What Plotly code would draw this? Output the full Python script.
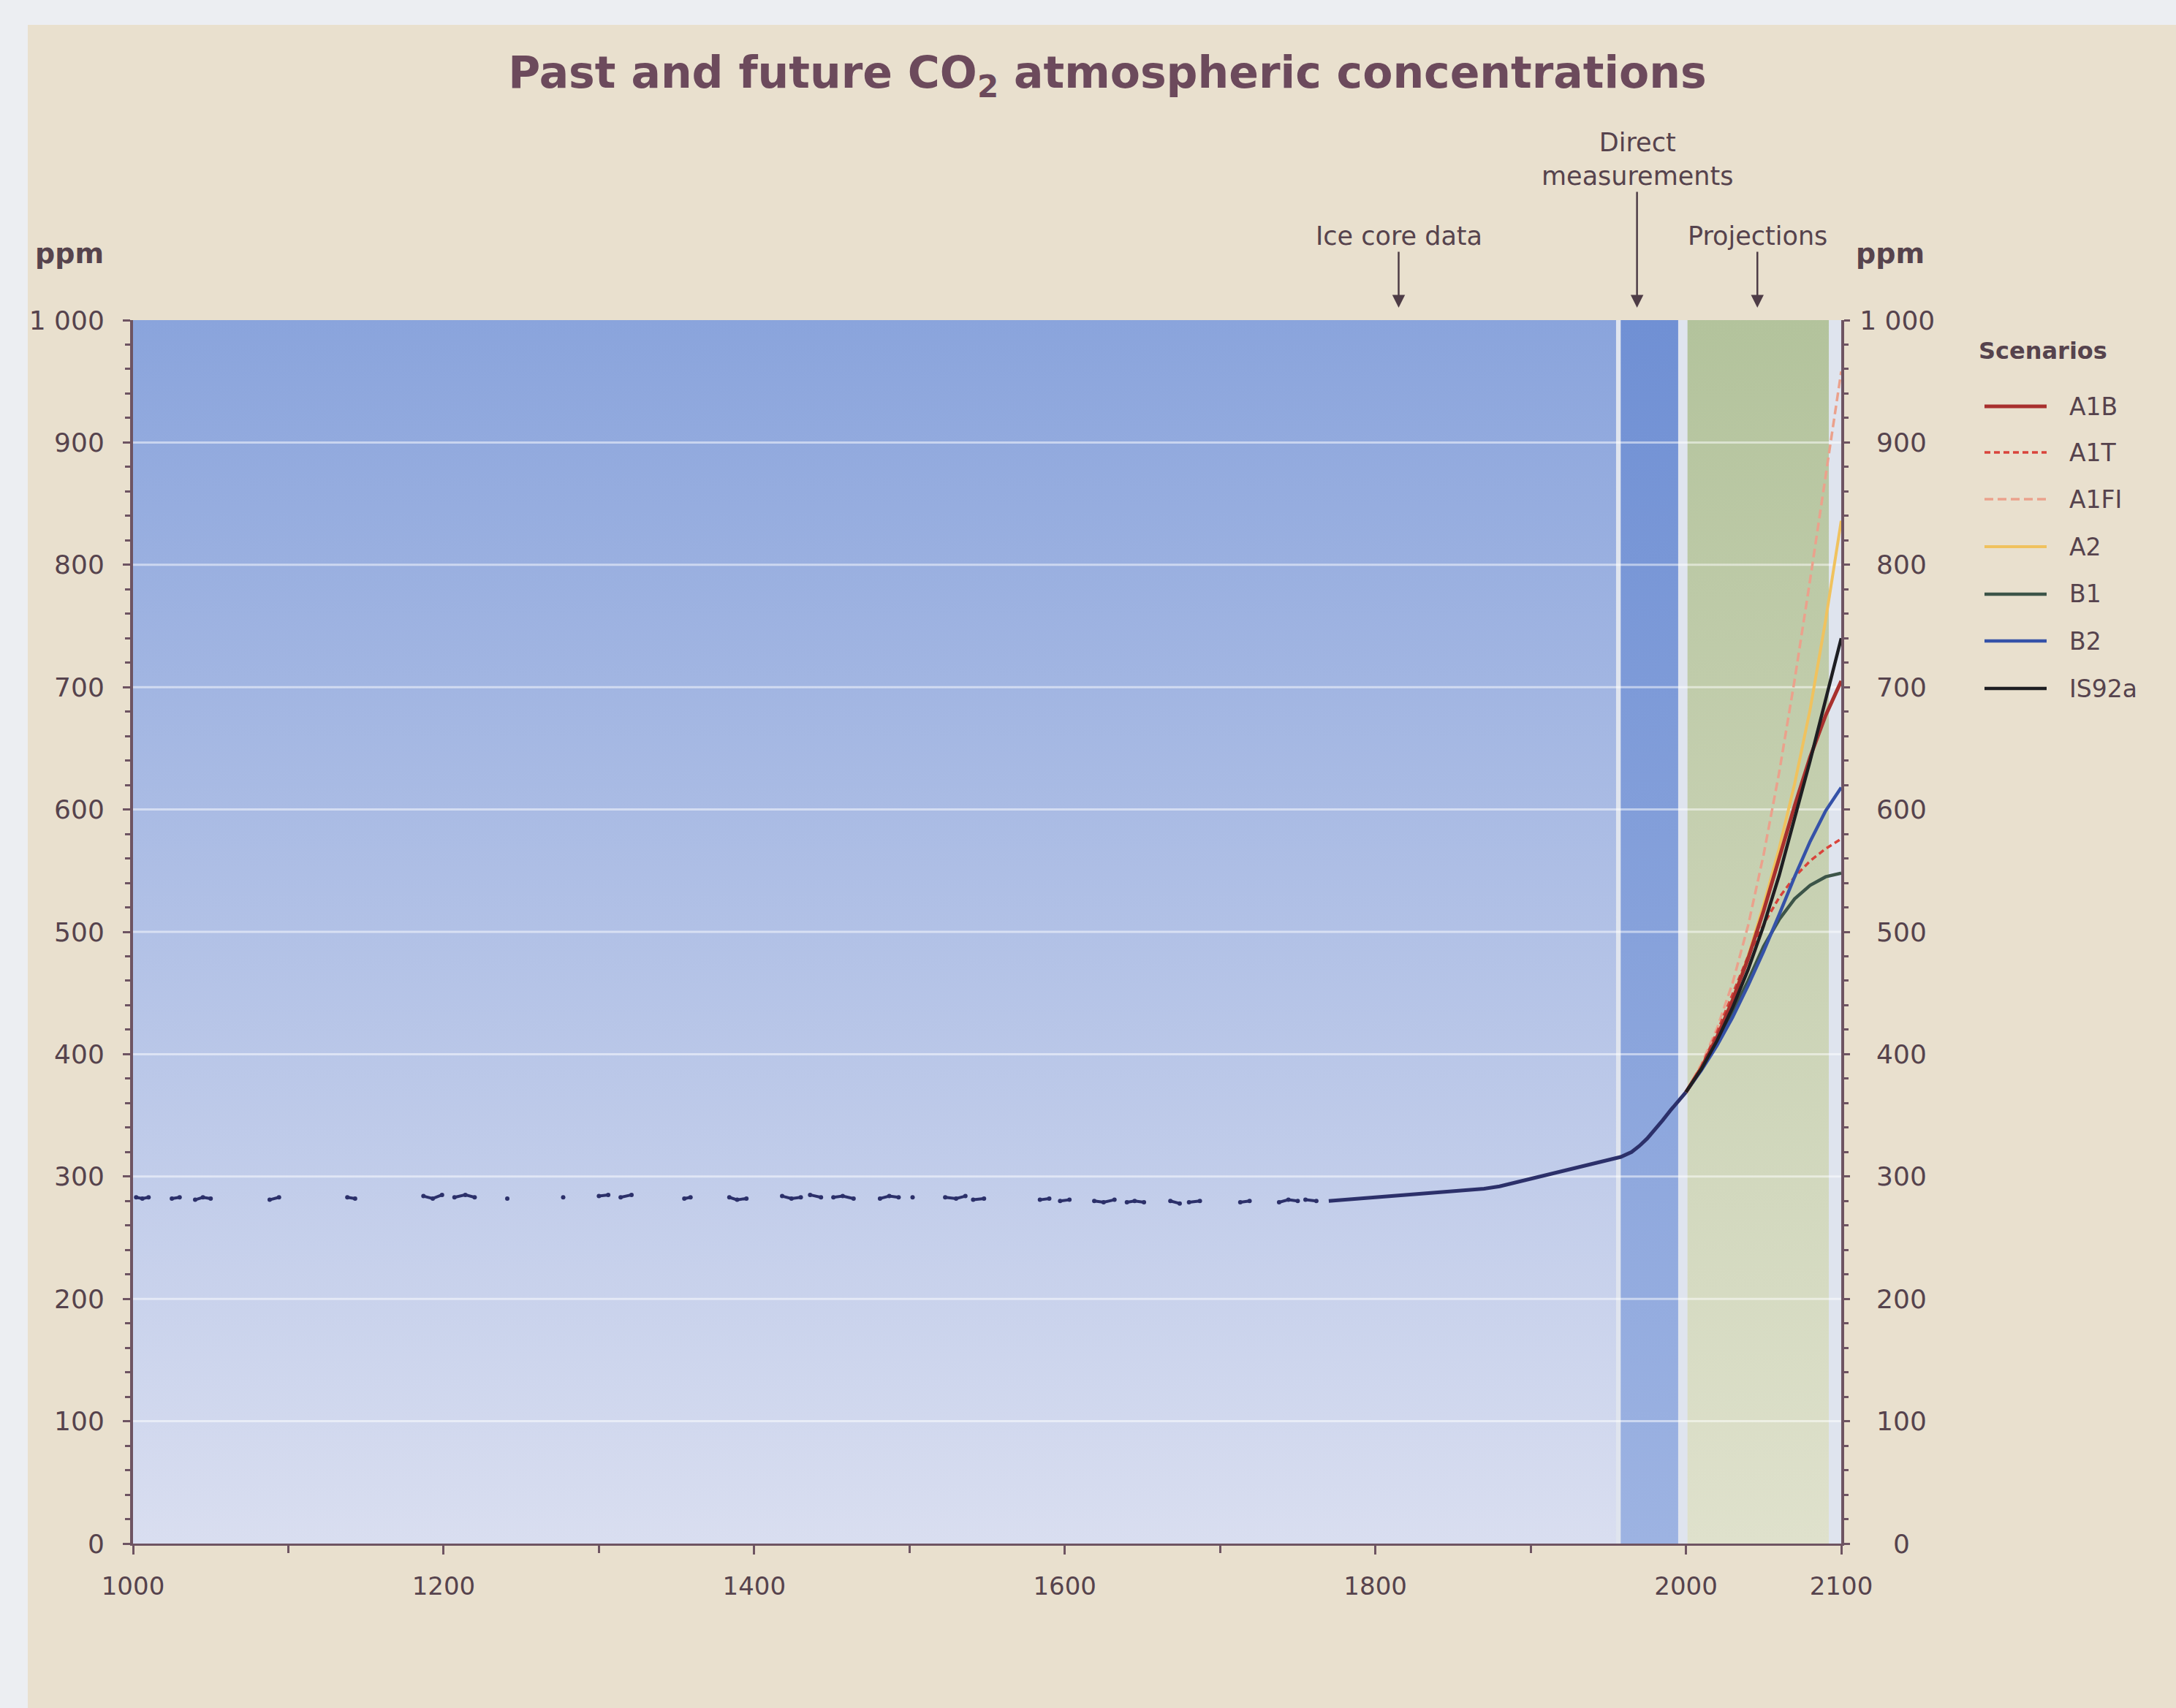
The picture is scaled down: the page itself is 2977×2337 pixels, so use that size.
import plotly.graph_objects as go

# ---------------------------------------------------------------- data
# Ice-core samples, 1000-1765 (None separates sample clusters)
ice_year = [1002, 1006, 1010, None, 1025, 1030, None, 1040, 1045, 1050, None,
            1088, 1094, None, 1138, 1143, None, 1187, 1193, 1199, None,
            1207, 1214, 1220, None, 1241, None, 1277, None, 1300, 1306, None,
            1314, 1321, None, 1355, 1359, None, 1384, 1389, 1395, None,
            1418, 1424, 1430, None, 1436, 1443, None, 1451, 1457, 1464, None,
            1481, 1487, 1493, None, 1502, None, 1523, 1530, 1536, None,
            1541, 1548, None, 1584, 1590, None, 1597, 1603, None,
            1619, 1625, 1632, None, 1640, 1645, 1651, None, 1668, 1674, None,
            1680, 1687, None, 1713, 1719, None, 1738, 1744, 1750, None,
            1755, 1762]
ice_ppm = [283, 282, 283, None, 282, 283, None, 281, 283, 282, None,
           281, 283, None, 283, 282, None, 284, 282, 285, None,
           283, 285, 283, None, 282, None, 283, None, 284, 285, None,
           283, 285, None, 282, 283, None, 283, 281, 282, None,
           284, 282, 283, None, 285, 283, None, 283, 284, 282, None,
           282, 284, 283, None, 283, None, 283, 282, 284, None,
           281, 282, None, 281, 282, None, 280, 281, None,
           280, 279, 281, None, 279, 280, 279, None, 280, 278, None,
           279, 280, None, 279, 280, None, 279, 281, 280, None,
           281, 280]

# Continuous record, ice core then direct measurements
hist_year = [1770, 1780, 1790, 1800, 1810, 1820, 1830, 1840, 1850, 1860, 1870,
             1880, 1890, 1900, 1910, 1920, 1930, 1940, 1950, 1958, 1965,
             1970, 1975, 1980, 1985, 1990, 1995, 2000]
hist_ppm = [280, 281, 282, 283, 284, 285, 286, 287, 288, 289, 290,
            292, 295, 298, 301, 304, 307, 310, 313, 316, 320,
            325, 331, 338, 346, 354, 361, 369]

# SRES / IS92a projections
proj_year = [2000, 2010, 2020, 2030, 2040, 2050, 2060, 2070, 2080, 2090, 2100]
scenarios = ["A1B", "A1T", "A1FI", "A2", "B1", "B2", "IS92a"]
ppm_A1B = [369, 389, 414, 444, 478, 517, 560, 603, 643, 677, 705]
ppm_A1T = [369, 390, 418, 449, 480, 506, 528, 545, 558, 568, 576]
ppm_A1FI = [369, 392, 421, 458, 505, 563, 630, 706, 788, 872, 958]
ppm_A2 = [369, 390, 414, 445, 480, 522, 568, 621, 682, 755, 836]
ppm_B1 = [369, 388, 410, 434, 460, 488, 510, 527, 538, 545, 548]
ppm_B2 = [369, 387, 407, 430, 456, 484, 514, 545, 574, 599, 618]
ppm_IS92a = [369, 388, 411, 438, 469, 505, 546, 592, 640, 690, 740]
scenario_ppm = {"A1B": ppm_A1B, "A1T": ppm_A1T, "A1FI": ppm_A1FI, "A2": ppm_A2,
                "B1": ppm_B1, "B2": ppm_B2, "IS92a": ppm_IS92a}

# Periods shaded behind the curves
ice_period = (1000, 1955)
direct_period = (1958, 1995)
proj_period = (2001, 2092)

ppm_ticks = [0, 100, 200, 300, 400, 500, 600, 700, 800, 900, 1000]
ppm_labels = ["0", "100", "200", "300", "400", "500", "600", "700", "800", "900", "1 000"]
year_ticks = [1000, 1200, 1400, 1600, 1800, 2000, 2100]
year_minor = [1100, 1300, 1500, 1700, 1900]

# ---------------------------------------------------------------- styles
FONT = "DejaVu Sans, Verdana, sans-serif"
INK = "#56434d"
AXIS = "#6e5462"
HIST_COLOR = "#2c306a"
style = {
    "A1B":   dict(color="#a8302e", width=5, dash="solid"),
    "A1T":   dict(color="#d9433b", width=3.5, dash="8px,5px"),
    "A1FI":  dict(color="#eba18c", width=3.5, dash="12px,6px"),
    "A2":    dict(color="#f0c25e", width=4, dash="solid"),
    "B1":    dict(color="#3c5448", width=4.5, dash="solid"),
    "B2":    dict(color="#3552a8", width=4.5, dash="solid"),
    "IS92a": dict(color="#1e1e22", width=4.5, dash="solid"),
}
draw_order = ["A1FI", "A2", "A1T", "B1", "B2", "A1B", "IS92a"]

Y_MIN, Y_MAX = ppm_ticks[0], ppm_ticks[-1]

fig = go.Figure()


def band(period, c_bottom, c_top):
    x0, x1 = period
    fig.add_trace(go.Scatter(
        x=[x0, x0, x1, x1, x0], y=[Y_MIN, Y_MAX, Y_MAX, Y_MIN, Y_MIN],
        mode="lines", line=dict(width=0), fill="toself",
        fillgradient=dict(type="vertical", colorscale=[[0, c_bottom], [1, c_top]],
                          start=Y_MIN, stop=Y_MAX),
        hoverinfo="skip", showlegend=False))


band(ice_period, "#d9def0", "#8aa4dc")
band(direct_period, "#9db3e2", "#7090d4")
band(proj_period, "#dfe1cc", "#b3c39c")

# horizontal grid lines drawn over the shaded periods
gx, gy = [], []
for v in ppm_ticks[1:-1]:
    gx += [year_ticks[0], year_ticks[-1], None]
    gy += [v, v, None]
fig.add_trace(go.Scatter(x=gx, y=gy, mode="lines",
                         line=dict(color="rgba(255,255,255,0.5)", width=3),
                         hoverinfo="skip", showlegend=False))

# observations
fig.add_trace(go.Scatter(x=ice_year, y=ice_ppm, mode="lines+markers",
                         line=dict(color=HIST_COLOR, width=4),
                         marker=dict(color=HIST_COLOR, size=6),
                         connectgaps=False, showlegend=False, name="Ice core"))
fig.add_trace(go.Scatter(x=hist_year, y=hist_ppm, mode="lines",
                         line=dict(color=HIST_COLOR, width=5),
                         showlegend=False, name="Record"))

# projections
for name in draw_order:
    st = style[name]
    fig.add_trace(go.Scatter(x=proj_year, y=scenario_ppm[name], mode="lines",
                             line=dict(color=st["color"], width=st["width"], dash=st["dash"]),
                             name=name, showlegend=False))

# carrier for the right-hand ppm axis
fig.add_trace(go.Scatter(x=[year_ticks[-1]], y=[Y_MIN], yaxis="y2", mode="markers",
                         marker=dict(opacity=0), hoverinfo="skip", showlegend=False))

# ---------------------------------------------------------------- layout
W, H = 2977, 2337
ML, MR, MT, MB = 182, 458, 438, 225
PW, PH = W - ML - MR, H - MT - MB


def px(xp):   # figure pixel -> paper x
    return (xp - ML) / PW


def py(yp):   # figure pixel -> paper y
    return (H - MB - yp) / PH


ytickfont = dict(family=FONT, size=36, color=INK)
xtickfont = dict(family=FONT, size=34, color=INK)
right_labels = ["\u2007\u2007" + t if len(t) == 1 else ("\u2007" + t if len(t) == 3 else t)
                for t in ppm_labels]

fig.update_layout(
    width=W, height=H,
    margin=dict(l=ML, r=MR, t=MT, b=MB, pad=0),
    paper_bgcolor="#eceef2",
    plot_bgcolor="#dfe4ee",
    showlegend=False,
    title=dict(text="Past and future CO<sub>2</sub> atmospheric concentrations",
               x=1515 / W, xanchor="center", y=1 - 99 / H, yanchor="middle",
               font=dict(family=FONT, size=60, color="#6c4a5c", weight="bold")),
    xaxis=dict(range=[year_ticks[0], year_ticks[-1]], tickmode="array",
               tickvals=year_ticks, ticktext=[str(v) for v in year_ticks],
               ticks="outside", ticklen=12, tickwidth=3, tickcolor=AXIS,
               minor=dict(tickmode="array", tickvals=year_minor, ticks="outside",
                          ticklen=10, tickwidth=3, tickcolor=AXIS),
               showline=True, linecolor=AXIS, linewidth=3, showgrid=False,
               zeroline=False, tickfont=xtickfont, ticklabelstandoff=14),
    yaxis=dict(range=[Y_MIN, Y_MAX], tickmode="array", tickvals=ppm_ticks,
               ticktext=ppm_labels, ticks="outside", ticklen=10, tickwidth=3,
               tickcolor=AXIS,
               minor=dict(dtick=20, ticks="outside", ticklen=7, tickwidth=3,
                          tickcolor=AXIS),
               showline=True, linecolor=AXIS, linewidth=4, showgrid=False,
               zeroline=False, tickfont=ytickfont, ticklabelstandoff=18),
    yaxis2=dict(range=[Y_MIN, Y_MAX], overlaying="y", side="right", anchor="x",
                tickmode="array", tickvals=ppm_ticks, ticktext=right_labels,
                ticks="outside", ticklen=8, tickwidth=3, tickcolor=AXIS,
                minor=dict(dtick=20, ticks="outside", ticklen=6, tickwidth=3,
                           tickcolor=AXIS),
                showline=True, linecolor=AXIS, linewidth=4, showgrid=False,
                zeroline=False, tickfont=ytickfont, ticklabelstandoff=6),
)

# page background (paper tone) behind everything
fig.add_shape(type="rect", xref="paper", yref="paper", layer="below",
              x0=px(38), x1=px(W + 5), y0=py(H + 5), y1=py(34),
              fillcolor="#e9e0ce", line=dict(width=0))
fig.add_shape(type="rect", xref="x", yref="y", layer="below",
              x0=year_ticks[0], x1=year_ticks[-1], y0=Y_MIN, y1=Y_MAX,
              fillcolor="#dfe4ee", line=dict(width=0))

# unit labels
for xp in (95, 2586):
    fig.add_annotation(x=px(xp), y=py(347), xref="paper", yref="paper",
                       text="ppm", showarrow=False, xanchor="center", yanchor="middle",
                       font=dict(family=FONT, size=38, color=INK, weight="bold"))

# period markers
arrow_y = py(421)
markers = [("Ice core data", 1815, -98),
           ("Direct<br>measurements", 1968.5, -203),
           ("Projections", 2046, -98)]
for text, yr, ay in markers:
    fig.add_annotation(x=yr, y=arrow_y, xref="x", yref="paper", text=text,
                       showarrow=True, ax=0, ay=ay, arrowhead=2, arrowsize=1.4,
                       arrowwidth=2.5, arrowcolor="#4e3c46", standoff=0,
                       font=dict(family=FONT, size=35, color=INK))

# scenario key
fig.add_annotation(x=px(2795), y=py(480), xref="paper", yref="paper",
                   text="Scenarios", showarrow=False, xanchor="center", yanchor="middle",
                   font=dict(family=FONT, size=32, color=INK, weight="bold"))
key_rows = [556, 619, 683, 748, 813, 877, 942]
for name, yrow in zip(scenarios, key_rows):
    st = style[name]
    fig.add_shape(type="line", xref="paper", yref="paper",
                  x0=px(2715), x1=px(2800), y0=py(yrow), y1=py(yrow),
                  line=dict(color=st["color"], width=st["width"], dash=st["dash"]))
    fig.add_annotation(x=px(2829), y=py(yrow), xref="paper", yref="paper",
                       text=name, showarrow=False, xanchor="left", yanchor="middle",
                       font=dict(family=FONT, size=33, color=INK))

fig.write_html("out.html")
